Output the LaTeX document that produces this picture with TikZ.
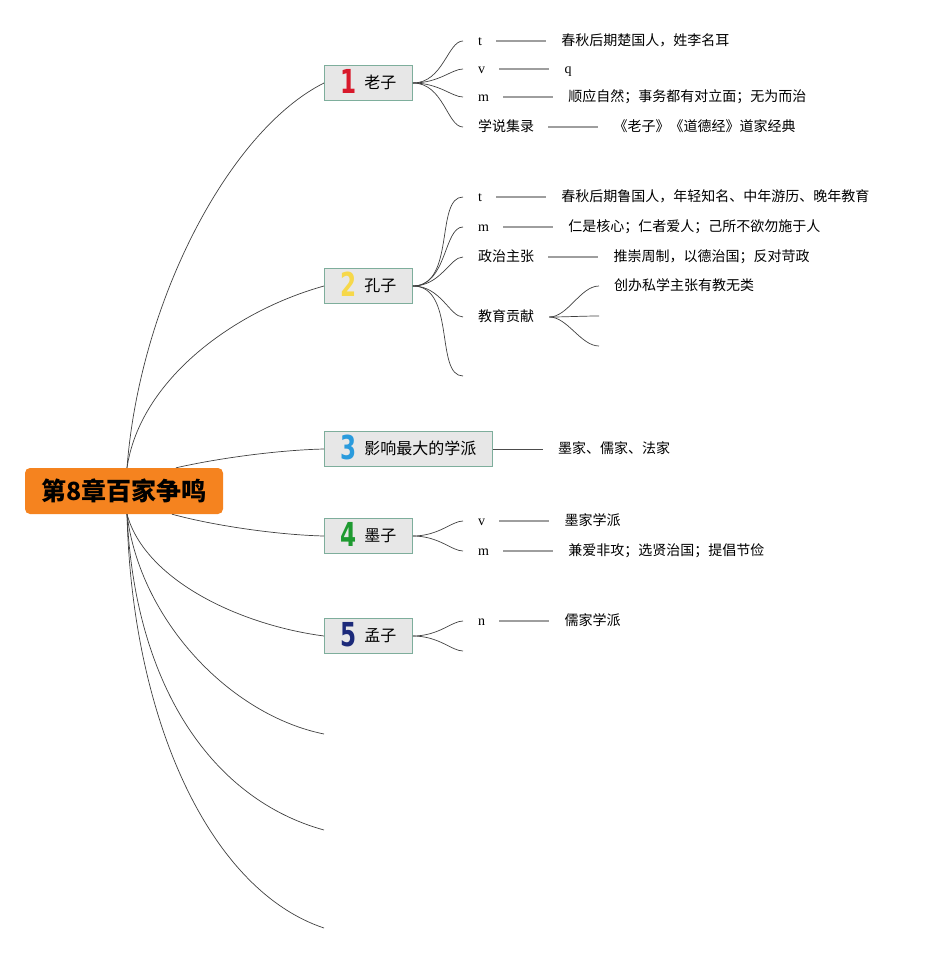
\documentclass[tikz,border=0pt]{standalone}
\usepackage{fontspec}
\setmainfont{Noto Sans CJK SC}
\newfontfamily\latinfont{Liberation Serif}
\newfontfamily\numfont{DejaVu Sans}
\usetikzlibrary{positioning,calc}

\definecolor{rootorange}{HTML}{F5831F}
\definecolor{topicfill}{HTML}{E7E7E7}
\definecolor{topicborder}{HTML}{7EAE9C}
\definecolor{numred}{HTML}{D8192B}
\definecolor{numyellow}{HTML}{F6D84A}
\definecolor{numblue}{HTML}{2A9BDD}
\definecolor{numgreen}{HTML}{1E9A30}
\definecolor{numnavy}{HTML}{1C2A7A}

\newcommand{\topicnum}[2]{\smash{\raisebox{-5pt}{\scalebox{0.7}[1]{\numfont\bfseries\fontsize{33}{33}\selectfont\color{#1}#2}}}\hspace{8pt}}

\begin{document}
\begin{tikzpicture}[x=1pt, y=-1pt,
  root/.style={fill=rootorange, rounded corners=5pt, minimum width=198pt, minimum height=46pt, inner sep=0, font=\fontsize{25}{25}\selectfont\bfseries},
  topic/.style={draw=topicborder, fill=topicfill, line width=0.8pt, minimum height=35pt, inner ysep=0, inner xsep=16pt, anchor=west, text height=12pt, text depth=2pt, font=\fontsize{16}{18}\selectfont},
  lab/.style={anchor=west, inner sep=0, text height=11pt, text depth=2pt, font=\fontsize{14}{16}\selectfont},
  letter/.style={lab, font=\latinfont\fontsize{14}{16}\selectfont},
  leaf/.style={inner sep=0, text height=11pt, text depth=2pt, font=\fontsize{14}{16}\selectfont},
  branch/.style={draw=black!75, line width=0.7pt},
  fan/.style={branch, out=0, in=180, shorten >=15pt},
  leafline/.style={draw=black!38, line width=1.3pt, shorten <=14pt, shorten >=15pt},
  plainline/.style={draw=black!70, line width=0.6pt, shorten >=15pt}
]
\useasboundingbox (0,0) rectangle (930,953);

% 中心主题
\node[root] (root) at (124,491) {第8章百家争鸣};
\coordinate (rootN) at ([xshift=3pt]root.north);
\coordinate (rootS) at ([xshift=3pt]root.south);

% 一级主题
\node[topic] (laozi) at (324,83) {\topicnum{numred}{1}老子};
\node[topic] (kongzi) at (324,286) {\topicnum{numyellow}{2}孔子};
\node[topic] (school) at (324,449) {\topicnum{numblue}{3}影响最大的学派};
\node[topic] (mozi) at (324,536) {\topicnum{numgreen}{4}墨子};
\node[topic] (mengzi) at (324,636) {\topicnum{numnavy}{5}孟子};
\coordinate (empty1) at (324,734);
\coordinate (empty2) at (324,830);
\coordinate (empty3) at (324,928);

\draw[branch] (rootN) .. controls +(13,-168) and +(-94,47) .. (laozi.west);
\draw[branch] (rootN) .. controls +(13,-88) and +(-90,25) .. (kongzi.west);
\draw[branch] ([xshift=52pt]root.north) .. controls +(44,-10) and +(-44,1) .. (school.west);
\draw[branch] ([xshift=48pt]root.south) .. controls +(44,12) and +(-44,-1) .. (mozi.west);
\draw[branch] (rootS) .. controls +(18,66) and +(-84,-11) .. (mengzi.west);
\draw[branch] (rootS) .. controls +(13,106) and +(-94,-19) .. (empty1);
\draw[branch] (rootS) .. controls +(8,176) and +(-109,-30) .. (empty2);
\draw[branch] (rootS) .. controls +(5,206) and +(-114,-38) .. (empty3);

% 老子
\node[letter] (laozi-t) at (478,41) {t};
\node[letter] (laozi-v) at (478,69) {v};
\node[letter] (laozi-m) at (478,97) {m};
\node[lab] (laozi-x) at (478,127) {学说集录};
\node[leaf, right=79pt of laozi-t] (laozi-t1) {春秋后期楚国人，姓李名耳};
\node[leaf, right=79pt of laozi-v, font=\latinfont\fontsize{14}{16}\selectfont] (laozi-v1) {q};
\node[leaf, right=79pt of laozi-m] (laozi-m1) {顺应自然；事务都有对立面；无为而治};
\node[leaf, right=79pt of laozi-x] (laozi-x1) {《老子》《道德经》道家经典};
\foreach \c in {t,v,m,x} {
  \draw[fan] (laozi.east) to (laozi-\c.west);
  \draw[leafline] (laozi-\c) -- (laozi-\c1);
}

% 孔子
\node[letter] (kongzi-t) at (478,197) {t};
\node[letter] (kongzi-m) at (478,227) {m};
\node[lab] (kongzi-z) at (478,257) {政治主张};
\node[lab] (kongzi-j) at (478,317) {教育贡献};
\coordinate (kongzi-e) at (478,376);
\node[leaf, right=79pt of kongzi-t] (kongzi-t1) {春秋后期鲁国人，年轻知名、中年游历、晚年教育};
\node[leaf, right=79pt of kongzi-m] (kongzi-m1) {仁是核心；仁者爱人；己所不欲勿施于人};
\node[leaf, right=79pt of kongzi-z] (kongzi-z1) {推崇周制，以德治国；反对苛政};
\foreach \c in {t,m,z} {
  \draw[fan] (kongzi.east) to (kongzi-\c.west);
  \draw[leafline] (kongzi-\c) -- (kongzi-\c1);
}
\draw[fan] (kongzi.east) to (kongzi-j.west);
\draw[fan] (kongzi.east) to (kongzi-e);

% 教育贡献
\node[lab] (kongzi-j1) at (614,286) {创办私学主张有教无类};
\coordinate (kongzi-j2) at (614,316);
\coordinate (kongzi-j3) at (614,346);
\draw[fan, shorten <=15pt] (kongzi-j.east) to (kongzi-j1.west);
\draw[fan, shorten <=15pt] (kongzi-j.east) to (kongzi-j2);
\draw[fan, shorten <=15pt] (kongzi-j.east) to (kongzi-j3);

% 影响最大的学派
\node[leaf, right=65pt of school] (school-1) {墨家、儒家、法家};
\draw[plainline] (school) -- (school-1);

% 墨子
\node[letter] (mozi-v) at (478,521) {v};
\node[letter] (mozi-m) at (478,551) {m};
\node[leaf, right=79pt of mozi-v] (mozi-v1) {墨家学派};
\node[leaf, right=79pt of mozi-m] (mozi-m1) {兼爱非攻；选贤治国；提倡节俭};
\foreach \c in {v,m} {
  \draw[fan] (mozi.east) to (mozi-\c.west);
  \draw[leafline] (mozi-\c) -- (mozi-\c1);
}

% 孟子
\node[letter] (mengzi-n) at (478,621) {n};
\coordinate (mengzi-e) at (478,651);
\node[leaf, right=79pt of mengzi-n] (mengzi-n1) {儒家学派};
\draw[fan] (mengzi.east) to (mengzi-n.west);
\draw[leafline] (mengzi-n) -- (mengzi-n1);
\draw[fan] (mengzi.east) to (mengzi-e);
\end{tikzpicture}
\end{document}
